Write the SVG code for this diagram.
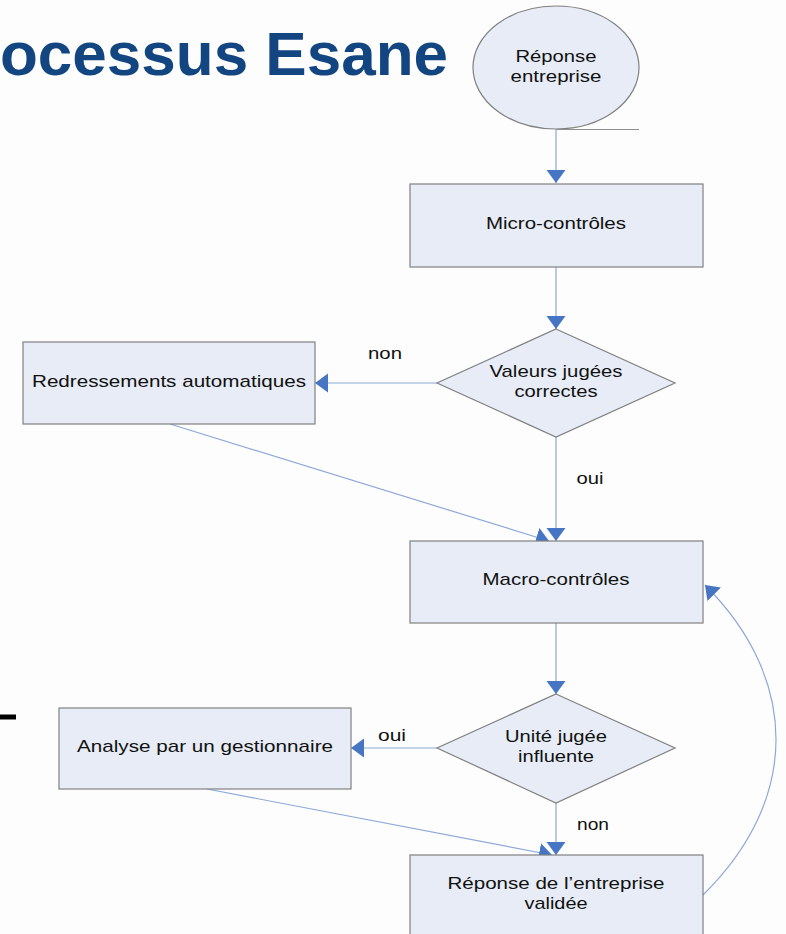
<svg xmlns="http://www.w3.org/2000/svg" width="786" height="934" viewBox="0 0 786 934">
<style>
.shape{fill:#e7ecf6;stroke:#808080;stroke-width:1.2}
.lbl{font-family:"Liberation Sans",Arial,sans-serif;font-size:17px;fill:#111;text-anchor:middle}
.edge{fill:none;stroke:#8ea9d8;stroke-width:1.2}
.title{font-family:"Liberation Sans",Arial,sans-serif;font-size:62px;font-weight:bold;fill:#134681}
</style>
<defs>
<marker id="ah" markerUnits="userSpaceOnUse" markerWidth="20" markerHeight="20" refX="13" refY="9.5" orient="auto">
<path d="M0,0 L13,9.5 L0,19 z" fill="#4676c3"/>
</marker>
</defs>
<rect width="786" height="934" fill="#fdfdfd"/>
<text class="title" x="0" y="75" textLength="448" lengthAdjust="spacingAndGlyphs">ocessus Esane</text>
<line x1="0" y1="717" x2="16" y2="717" stroke="#000" stroke-width="5"/>

<g id="connectors">
<path class="edge" d="M556,130 V183" marker-end="url(#ah)"/>
<path class="edge" d="M556,267 V329" marker-end="url(#ah)"/>
<path class="edge" d="M437,383 H315" marker-end="url(#ah)"/>
<path class="edge" d="M556,437 V541" marker-end="url(#ah)"/>
<path class="edge" d="M170,424 L549,541" marker-end="url(#ah)"/>
<path class="edge" d="M556,623 V694" marker-end="url(#ah)"/>
<path class="edge" d="M437,748 H351" marker-end="url(#ah)"/>
<path class="edge" d="M556,803 V855" marker-end="url(#ah)"/>
<path class="edge" d="M207,789 L552,855" marker-end="url(#ah)"/>
<path class="edge" d="M703,895 C800,800 800,680 705,585" marker-end="url(#ah)"/>
<text class="lbl" x="385" y="359" textLength="34" lengthAdjust="spacingAndGlyphs">non</text>
<text class="lbl" x="590" y="484" textLength="27" lengthAdjust="spacingAndGlyphs">oui</text>
<text class="lbl" x="392" y="741" textLength="28" lengthAdjust="spacingAndGlyphs">oui</text>
<text class="lbl" x="593" y="830" textLength="32" lengthAdjust="spacingAndGlyphs">non</text>
</g>

<g id="start">
<ellipse class="shape" cx="556" cy="67.5" rx="83" ry="61.5"/>
<line x1="556" y1="129.5" x2="639" y2="129.5" stroke="#909090" stroke-width="1.2"/>
<text class="lbl" x="556" y="62" textLength="81" lengthAdjust="spacingAndGlyphs">Réponse</text>
<text class="lbl" x="556" y="82" textLength="91" lengthAdjust="spacingAndGlyphs">entreprise</text>
</g>

<g id="micro">
<rect class="shape" x="410" y="184" width="293" height="83"/>
<text class="lbl" x="556" y="229" textLength="140" lengthAdjust="spacingAndGlyphs">Micro-contrôles</text>
</g>

<g id="valeurs">
<polygon class="shape" points="556,329 675,383 556,437 437,383"/>
<text class="lbl" x="556" y="377" textLength="133" lengthAdjust="spacingAndGlyphs">Valeurs jugées</text>
<text class="lbl" x="556" y="397" textLength="83" lengthAdjust="spacingAndGlyphs">correctes</text>
</g>

<g id="redressements">
<rect class="shape" x="23" y="342" width="292" height="82"/>
<text class="lbl" x="169" y="387" textLength="274" lengthAdjust="spacingAndGlyphs">Redressements automatiques</text>
</g>

<g id="macro">
<rect class="shape" x="410" y="541" width="293" height="82"/>
<text class="lbl" x="556" y="585" textLength="147" lengthAdjust="spacingAndGlyphs">Macro-contrôles</text>
</g>

<g id="unite">
<polygon class="shape" points="556,694 675,748 556,803 437,748"/>
<text class="lbl" x="556" y="742" textLength="102" lengthAdjust="spacingAndGlyphs">Unité jugée</text>
<text class="lbl" x="556" y="762" textLength="76" lengthAdjust="spacingAndGlyphs">influente</text>
</g>

<g id="analyse">
<rect class="shape" x="59" y="708" width="292" height="81"/>
<text class="lbl" x="205" y="752" textLength="256" lengthAdjust="spacingAndGlyphs">Analyse par un gestionnaire</text>
</g>

<g id="validee">
<rect class="shape" x="410" y="855" width="293" height="83"/>
<text class="lbl" x="556" y="889" textLength="217" lengthAdjust="spacingAndGlyphs">Réponse de l’entreprise</text>
<text class="lbl" x="556" y="909" textLength="63" lengthAdjust="spacingAndGlyphs">validée</text>
</g>
</svg>
